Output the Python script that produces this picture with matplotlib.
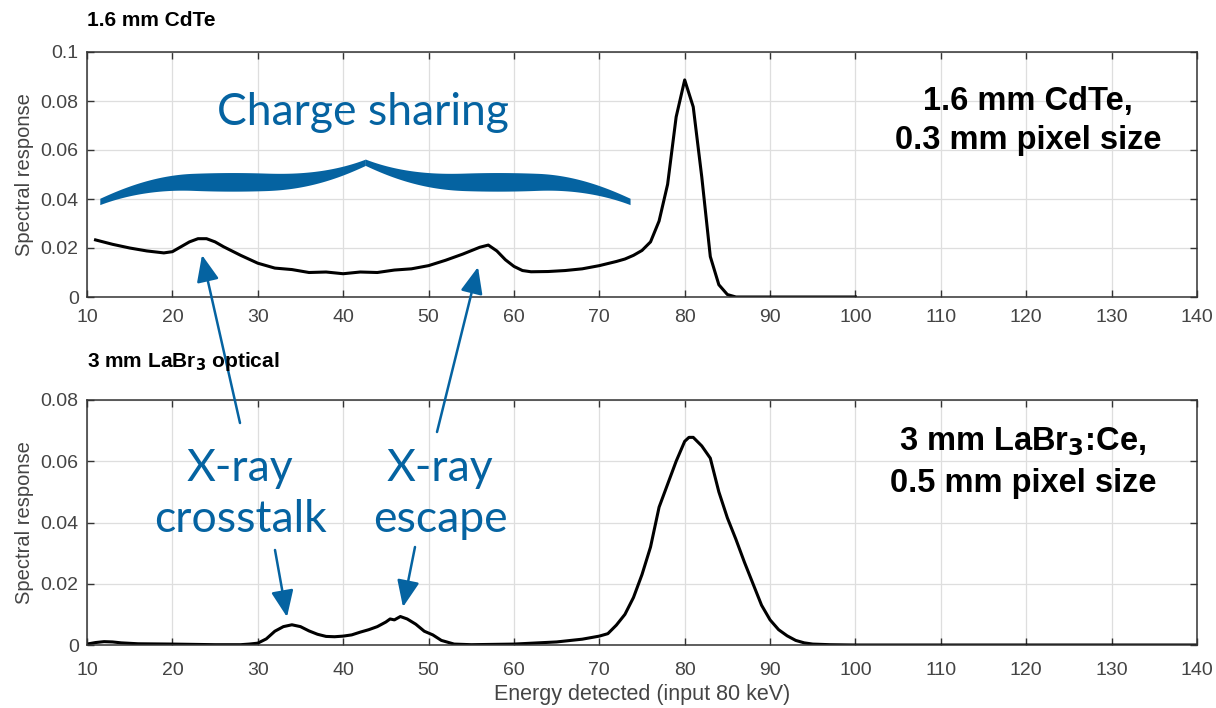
import matplotlib.pyplot as plt
import numpy as np
from matplotlib.patches import FancyArrowPatch
from matplotlib.ticker import FormatStrFormatter

# 1.6 mm CdTe, 0.3 mm pixels
e_cdte = [11, 13, 15, 17, 19, 20, 21, 22, 23, 24, 25, 26, 28, 30, 32, 34, 36, 38,
          40, 42, 44, 46, 48, 50, 52, 54, 56, 57, 58, 59, 60, 61, 62, 64, 66, 68,
          70, 72, 73, 74, 75, 76, 77, 78, 79, 80, 81, 82, 83, 84, 85, 86, 90, 100]
s_cdte = [0.0233, 0.0215, 0.0200, 0.0188, 0.0180, 0.0185, 0.0205, 0.0225, 0.0238,
          0.0238, 0.0225, 0.0205, 0.0170, 0.0138, 0.0118, 0.0112, 0.0100, 0.0102,
          0.0095, 0.0102, 0.0100, 0.0110, 0.0115, 0.0128, 0.0150, 0.0175, 0.0203,
          0.0212, 0.0188, 0.0152, 0.0125, 0.0108, 0.0103, 0.0104, 0.0108, 0.0115,
          0.0128, 0.0145, 0.0155, 0.0170, 0.0190, 0.0225, 0.0310, 0.0460, 0.0735,
          0.0886, 0.0776, 0.0490, 0.0165, 0.0050, 0.0010, 0.0, 0.0, 0.0]

# 3 mm LaBr3:Ce, 0.5 mm pixels
e_labr = [10, 11, 12, 13, 14, 16, 20, 25, 28, 29, 30, 31, 32, 33, 34, 35, 36, 37,
          38, 39, 40, 41, 42, 43, 44, 45, 45.5, 46, 46.7, 47.5, 48.5, 49.5, 50.5,
          51.5, 53, 55, 60, 65, 68, 70, 71, 72, 73, 74, 75, 76, 77, 78, 79, 80,
          80.5, 81, 82, 83, 84, 85, 86, 87, 88, 89, 90, 91, 92, 93, 94, 95, 97,
          100, 140]
s_labr = [0.0003, 0.0008, 0.0011, 0.0010, 0.0007, 0.0004, 0.0003, 0.0001, 0.0001,
          0.0003, 0.0006, 0.0020, 0.0045, 0.0060, 0.0066, 0.0060, 0.0046, 0.0035,
          0.0028, 0.0027, 0.0029, 0.0033, 0.0042, 0.0050, 0.0060, 0.0075, 0.0085,
          0.0082, 0.0093, 0.0085, 0.0068, 0.0045, 0.0033, 0.0015, 0.0003, 0.0001,
          0.0003, 0.0010, 0.0019, 0.0029, 0.0037, 0.0065, 0.0100, 0.0155, 0.0230,
          0.0320, 0.0450, 0.0525, 0.0600, 0.0665, 0.0678, 0.0678, 0.0650, 0.0610,
          0.0500, 0.0415, 0.0345, 0.0270, 0.0200, 0.0130, 0.0082, 0.0050, 0.0030,
          0.0015, 0.0007, 0.0003, 0.0001, 0.0, 0.0]

x_ticks = np.arange(10, 141, 10)
blue = '#0563a1'
tick_grey = '#444444'

W, H = 1216, 708
plt.rcParams['font.family'] = ['Liberation Sans', 'DejaVu Sans']
fig = plt.figure(figsize=(W / 100, H / 100), dpi=100)


def px_axes(left, top, right, bottom):
    return fig.add_axes([left / W, 1 - bottom / H, (right - left) / W, (bottom - top) / H])


def style(ax, ymax, ystep, xpad):
    ax.set_xlim(10, 140)
    ax.set_ylim(0, ymax)
    ax.set_xticks(x_ticks)
    ax.set_yticks(np.arange(0, ymax + 1e-9, ystep))
    ax.yaxis.set_major_formatter(FormatStrFormatter('%g'))
    ax.grid(True, color='#dedede', lw=0.9)
    ax.set_axisbelow(True)
    ax.tick_params(direction='in', top=True, right=True, length=5, width=1,
                   color='#333333', labelsize=14, labelcolor=tick_grey)
    ax.tick_params(axis='x', pad=xpad)
    ax.tick_params(axis='y', pad=6)
    for s in ax.spines.values():
        s.set_color('#333333')
        s.set_linewidth(1.1)
    ax.set_ylabel('Spectral response', fontsize=14.5, color=tick_grey, labelpad=5)


ax1 = px_axes(87, 52, 1197, 297)
ax2 = px_axes(87, 400, 1197, 645)
style(ax1, 0.1, 0.02, 9)
style(ax2, 0.08, 0.02, 12)

ax1.plot(e_cdte, s_cdte, color='black', lw=2.2)
ax2.plot(e_labr, s_labr, color='black', lw=2.2)
ax2.set_xlabel('Energy detected (input 80 keV)', fontsize=15.5, color=tick_grey, labelpad=4)

fig.text(87 / W, 1 - 20 / H, '1.6 mm CdTe', fontsize=15, fontweight='bold', va='center')
fig.text(87 / W, 1 - 361 / H, '3 mm LaBr$_\\mathbf{3}$ optical', fontsize=15,
         fontweight='bold', va='center')

ax1.text(120.2, 0.0719, '1.6 mm CdTe,\n0.3 mm pixel size', fontsize=23.5,
         fontweight='bold', ha='center', va='center', linespacing=1.35)
ax2.text(119.6, 0.0598, '3 mm LaBr$_\\mathbf{3}$:Ce,\n0.5 mm pixel size', fontsize=23.5,
         fontweight='bold', ha='center', va='center', linespacing=1.4)


# curly brace over the charge-sharing region
def brace_half(x0, x1, n=200):
    t = np.linspace(0, 1, n)
    y = (0.047 - 0.008 * np.clip(1 - t / 0.35, 0, 1) ** 2
         + 0.008 * np.clip((t - 0.62) / 0.38, 0, 1) ** 2.2)
    w = 0.0013 + 0.0025 * np.sin(np.pi * t) ** 1.2
    return x0 + t * (x1 - x0), y, w


for xs, ys, ws in (brace_half(11.5, 42.6), brace_half(73.6, 42.6)):
    ax1.fill_between(xs, ys - ws, ys + ws, color=blue, lw=0, zorder=4)

ax1.text(42.3, 0.0755, 'Charge sharing', fontsize=32, color=blue,
         family=['Lato', 'DejaVu Sans'], ha='center', va='center')

label_font = dict(fontsize=32, color=blue, family=['Lato', 'DejaVu Sans'],
                  ha='center', va='center', linespacing=1.3)
fig.text(240 / W, 1 - 494 / H, 'X-ray\ncrosstalk', **label_font)
fig.text(440 / W, 1 - 494 / H, 'X-ray\nescape', **label_font)

arrow = dict(arrowstyle='-|>,head_length=0.9,head_width=0.38', color=blue, lw=1.8,
             shrinkA=0, shrinkB=0)
for tail, head in (((240, 423), (202, 255)), ((437, 432), (478, 267)),
                   ((275, 550), (287, 617)), ((415, 547), (403, 607))):
    fig.add_artist(FancyArrowPatch(
        (tail[0] / W, 1 - tail[1] / H), (head[0] / W, 1 - head[1] / H),
        transform=fig.transFigure, mutation_scale=18, **arrow))

plt.savefig('out.png', dpi=100)
